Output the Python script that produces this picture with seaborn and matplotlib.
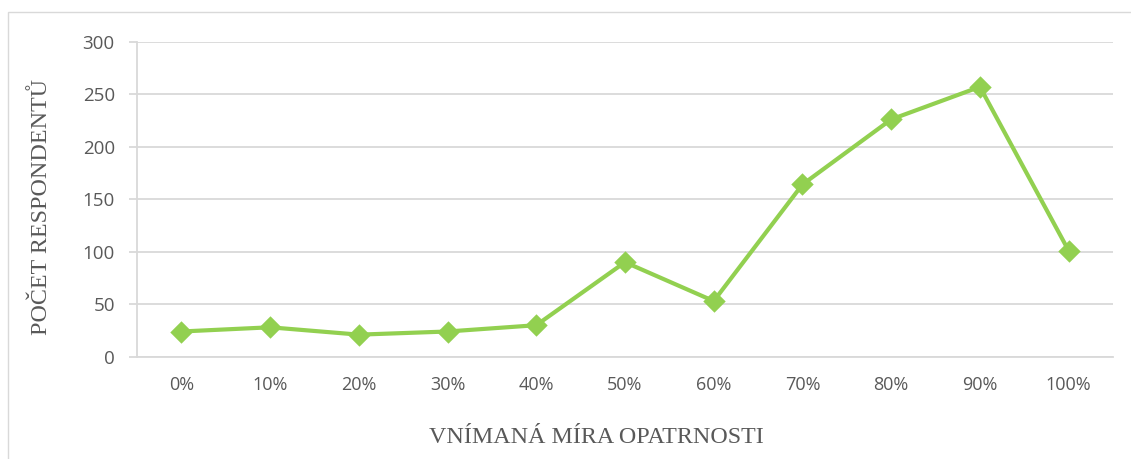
import matplotlib
matplotlib.use("Agg")
import matplotlib.pyplot as plt
import seaborn as sns
import pandas as pd
from matplotlib.patches import Rectangle

# Data
mira = ['0%', '10%', '20%', '30%', '40%', '50%', '60%', '70%', '80%', '90%', '100%']
pocet = [24, 28, 21, 24, 30, 90, 53, 164, 226, 257, 101]

df = pd.DataFrame({'mira': mira, 'pocet': pocet})

sns.set_style('white')
plt.rcParams['font.family'] = ['Open Sans', 'DejaVu Sans']

grid_col = '#d9d9d9'
text_col = '#595959'
green = '#92d050'

fig = plt.figure(figsize=(11.31, 4.59), dpi=100)
ax = fig.add_axes([137 / 1131, 102.3 / 459, 976 / 1131, 315 / 459])

sns.pointplot(data=df, x='mira', y='pocet', order=mira, color=green,
              markers='D', errorbar=None, ax=ax,
              linewidth=3, markersize=9.5)

ax.set_ylim(0, 300)
ax.set_yticks([0, 50, 100, 150, 200, 250, 300])
ax.yaxis.grid(True, color=grid_col, linewidth=1.3)
ax.xaxis.grid(False)
ax.set_axisbelow(True)

for s in ['top', 'right']:
    ax.spines[s].set_visible(False)
for s in ['left', 'bottom']:
    ax.spines[s].set_color(grid_col)
    ax.spines[s].set_linewidth(1.3)

ax.tick_params(axis='y', left=True, length=6, width=1.3, color=grid_col, pad=10,
               labelsize=13.5, labelcolor=text_col)
ax.tick_params(axis='x', bottom=False, length=0, pad=14, labelsize=13,
               labelcolor=text_col)

serif = ['Liberation Serif', 'DejaVu Serif']
ax.set_xlabel('VNÍMANÁ MÍRA OPATRNOSTI', fontsize=17.3, color=text_col, family=serif)
ax.set_ylabel('POČET RESPONDENTŮ', fontsize=17.3, color=text_col, family=serif)
ax.xaxis.set_label_coords(0.471, -0.255)
ax.xaxis.label.set_va('center')
ax.yaxis.set_label_coords(-0.098, 0.474)
ax.yaxis.label.set_va('center')

# light frame around the chart area
fig.patches.append(Rectangle((8 / 1131, -0.1), 2, 0.974 + 0.1,
                             transform=fig.transFigure, fill=False,
                             edgecolor=grid_col, linewidth=1))

fig.savefig('out.png', dpi=100)
